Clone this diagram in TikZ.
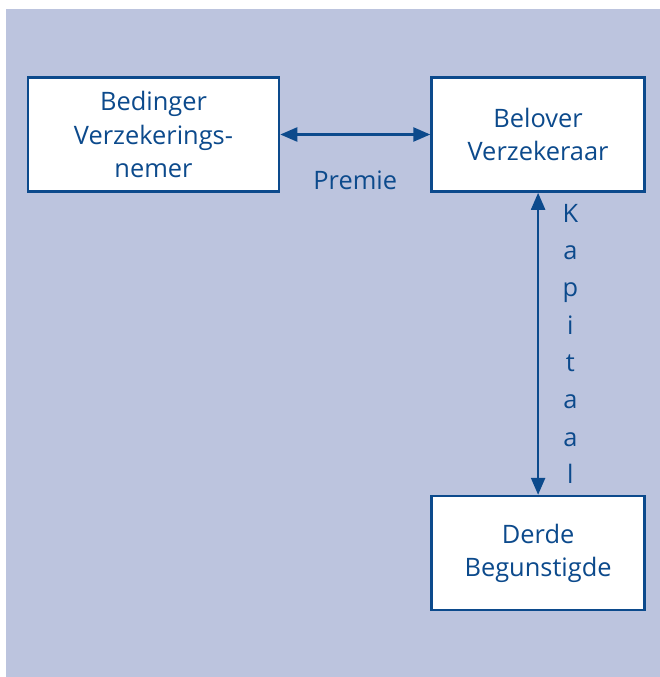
\documentclass[tikz,border=0pt]{standalone}
\usepackage{fontspec}
\setmainfont{Open Sans}
\usepackage{xcolor}
\usetikzlibrary{arrows.meta, positioning}
\definecolor{polisblue}{RGB}{12,74,140}
\definecolor{polisbg}{RGB}{188,196,222}
\tikzset{
    party/.style={rectangle, draw=polisblue, line width=2.6bp, fill=white, text=polisblue, align=center, minimum width=213bp, minimum height=114bp, inner sep=0pt, font=\fontsize{25.5}{33.5}\selectfont},
    arrow/.style={{Triangle[length=17bp,width=14bp]}-{Triangle[length=17bp,width=14bp]}, line width=2.4bp, draw=polisblue},
    flow/.style={text=polisblue, font=\fontsize{25.5}{37.4}\selectfont, align=center}
}
\begin{document}
\begin{tikzpicture}[x=1bp, y=-1bp]
            \useasboundingbox (0,0) rectangle (660,677);
            \fill[polisbg] (6,9) rectangle (660,677);
            \node (bedinger) [party, minimum width=251bp] at (153.5,134.5) {Bedinger\\Verzekerings-\\nemer};
            \node (belover) [party, right=150bp of bedinger] {Belover\\Verzekeraar};
            \node (derde) [party, below=302bp of belover] {Derde\\Begunstigde};

            \draw[arrow] (bedinger) -- node[flow, below=32bp] (premie) {Premie} (belover);
            \draw[arrow] (belover) -- node[flow, right=20bp] (kapitaal) {K\\a\\p\\i\\t\\a\\a\\l} (derde);
        \end{tikzpicture}
\end{document}
